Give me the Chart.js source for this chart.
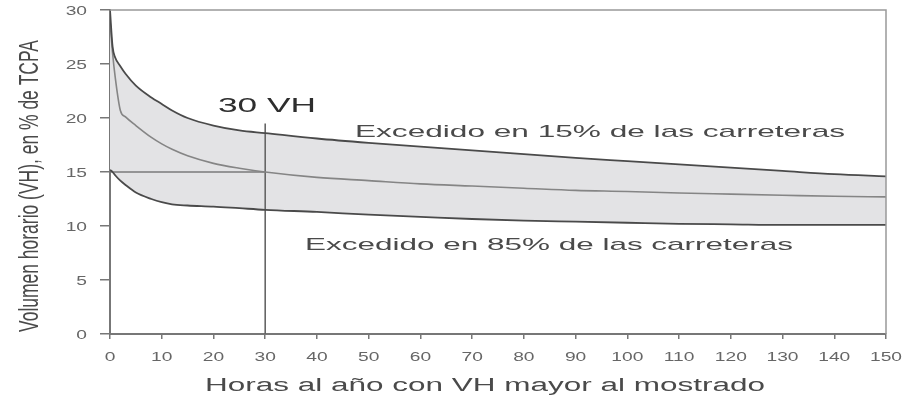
<!DOCTYPE html>
<html>
<head>
<meta charset="utf-8">
<script src="https://cdn.jsdelivr.net/npm/chart.js@4.4.1/dist/chart.umd.min.js"></script>
<style>
  html, body { margin: 0; padding: 0; background: #fff; }
  canvas { display: block; }
</style>
</head>
<body>
<canvas id="vhChart" width="904" height="398"></canvas>
<script>
// --- data: hourly volume (% of AADT) vs. hours per year
const HOURS   = [0, 0.5, 1, 2, 3, 5, 8, 10, 12, 15, 20, 25, 30, 40, 50, 60, 70, 80, 90, 100, 110, 120, 130, 140, 150];
const VH_P15  = [30, 26.6, 25.6, 24.8, 24.1, 23.0, 21.9, 21.3, 20.7, 20.0, 19.3, 18.85, 18.6, 18.1, 17.7, 17.35, 17.0, 16.65, 16.3, 16.0, 15.7, 15.4, 15.1, 14.8, 14.6];
const VH_MID  = [29, 26, 23.8, 20.7, 20.1, 19.3, 18.2, 17.6, 17.1, 16.5, 15.8, 15.35, 15.0, 14.5, 14.2, 13.9, 13.7, 13.5, 13.3, 13.2, 13.05, 12.95, 12.85, 12.75, 12.7];
const VH_P85  = [15.2, 15.0, 14.7, 14.2, 13.8, 13.1, 12.5, 12.2, 12.0, 11.9, 11.8, 11.65, 11.5, 11.3, 11.05, 10.85, 10.65, 10.5, 10.4, 10.3, 10.2, 10.15, 10.1, 10.1, 10.1];

const REF_HOUR  = 30;
const REF_LEVEL = 15;
const REF_TOP   = 19.5;

const X_TICKS = [0, 10, 20, 30, 40, 50, 60, 70, 80, 90, 100, 110, 120, 130, 140, 150];
const Y_TICKS = [0, 5, 10, 15, 20, 25, 30];

const pts = ys => HOURS.map((h, i) => ({ x: h, y: ys[i] }));

const FONT = '"Liberation Sans", Arial, sans-serif';

// text drawn with a horizontal stretch to a given width
function wideText(ctx, str, x, y, size, width, color, align = "left") {
  ctx.save();
  ctx.font = size + "px " + FONT;
  const sx = width / ctx.measureText(str).width;
  ctx.translate(x, y);
  ctx.scale(sx, 1);
  ctx.textAlign = align;
  ctx.textBaseline = "middle";
  ctx.fillStyle = color;
  ctx.fillText(str, 0, 0);
  ctx.restore();
}

function tickText(ctx, str, x, y, align) {
  ctx.save();
  ctx.font = "12px " + FONT;
  ctx.translate(x, y);
  ctx.scale(1.6, 1);
  ctx.textAlign = align;
  ctx.textBaseline = "middle";
  ctx.fillStyle = "#666";
  ctx.fillText(str, 0, 0);
  ctx.restore();
}

const decorations = {
  id: "decorations",
  afterDraw(chart) {
    const { ctx, chartArea: a, scales: { x, y } } = chart;

    // frame: top and right edges
    ctx.save();
    ctx.strokeStyle = "#999";
    ctx.lineWidth = 1.5;
    ctx.beginPath();
    ctx.moveTo(a.left, a.top);
    ctx.lineTo(a.right, a.top);
    ctx.lineTo(a.right, a.bottom);
    ctx.stroke();
    ctx.restore();

    // tick labels
    Y_TICKS.forEach(v => tickText(ctx, String(v), 87, y.getPixelForValue(v) + 2, "right"));
    X_TICKS.forEach(v => tickText(ctx, String(v), x.getPixelForValue(v), 358, "center"));

    // axis titles
    wideText(ctx, "Horas al año con VH mayor al mostrado", 205, 386, 18, 560, "#4a4a4a");

    ctx.save();
    ctx.font = "17px " + FONT;
    const title = "Volumen horario (VH), en % de TCPA";
    const len = ctx.measureText(title).width;
    ctx.translate(30, 186);
    ctx.rotate(-Math.PI / 2);
    ctx.scale(292 / len, 1.65);
    ctx.textAlign = "center";
    ctx.textBaseline = "middle";
    ctx.fillStyle = "#4a4a4a";
    ctx.fillText(title, 0, 0);
    ctx.restore();

    // annotations
    wideText(ctx, "30 VH", 218, 106, 21, 98, "#2e2e2e");
    wideText(ctx, "Excedido en 15% de las carreteras", 355, 132, 17, 490, "#4a4a4a");
    wideText(ctx, "Excedido en 85% de las carreteras", 305, 245, 17, 488, "#4a4a4a");
  }
};

new Chart(document.getElementById("vhChart"), {
  type: "line",
  data: {
    datasets: [
      {
        label: "Excedido en 15%",
        data: pts(VH_P15),
        borderColor: "#4a4a4a",
        borderWidth: 1.8,
        backgroundColor: "#e3e3e5",
        fill: { target: 2 },
        cubicInterpolationMode: "monotone",
        pointRadius: 0
      },
      {
        label: "Media",
        data: pts(VH_MID),
        borderColor: "#858585",
        borderWidth: 1.6,
        fill: false,
        cubicInterpolationMode: "monotone",
        pointRadius: 0
      },
      {
        label: "Excedido en 85%",
        data: pts(VH_P85),
        borderColor: "#4a4a4a",
        borderWidth: 1.8,
        fill: false,
        cubicInterpolationMode: "monotone",
        pointRadius: 0
      },
      {
        label: "Nivel 15%",
        data: [{ x: 0, y: REF_LEVEL }, { x: REF_HOUR, y: REF_LEVEL }],
        borderColor: "#7a7a7a",
        borderWidth: 1.4,
        fill: false,
        pointRadius: 0
      },
      {
        label: "30 VH",
        data: [{ x: REF_HOUR, y: 0 }, { x: REF_HOUR, y: REF_TOP }],
        borderColor: "#666",
        borderWidth: 1.6,
        fill: false,
        pointRadius: 0
      }
    ]
  },
  options: {
    responsive: false,
    animation: false,
    layout: { padding: { top: 10, right: 18, left: 0, bottom: 0 } },
    plugins: {
      legend: { display: false },
      tooltip: { enabled: false },
      filler: { drawTime: "beforeDatasetsDraw" }
    },
    scales: {
      x: {
        type: "linear",
        min: 0, max: 150,
        ticks: { stepSize: 10, display: false },
        grid: { drawOnChartArea: false, drawTicks: true, tickLength: 5, color: "#777", lineWidth: 1.5 },
        border: { display: true, color: "#777", width: 2 },
        afterFit(s) { s.height = 64; }
      },
      y: {
        min: 0, max: 30,
        ticks: { stepSize: 5, display: false },
        grid: { drawOnChartArea: false, drawTicks: true, tickLength: 10, color: "#777", lineWidth: 1.5 },
        border: { display: true, color: "#777", width: 2 },
        afterFit(s) { s.width = 110; }
      }
    }
  },
  plugins: [decorations]
});
</script>
</body>
</html>
